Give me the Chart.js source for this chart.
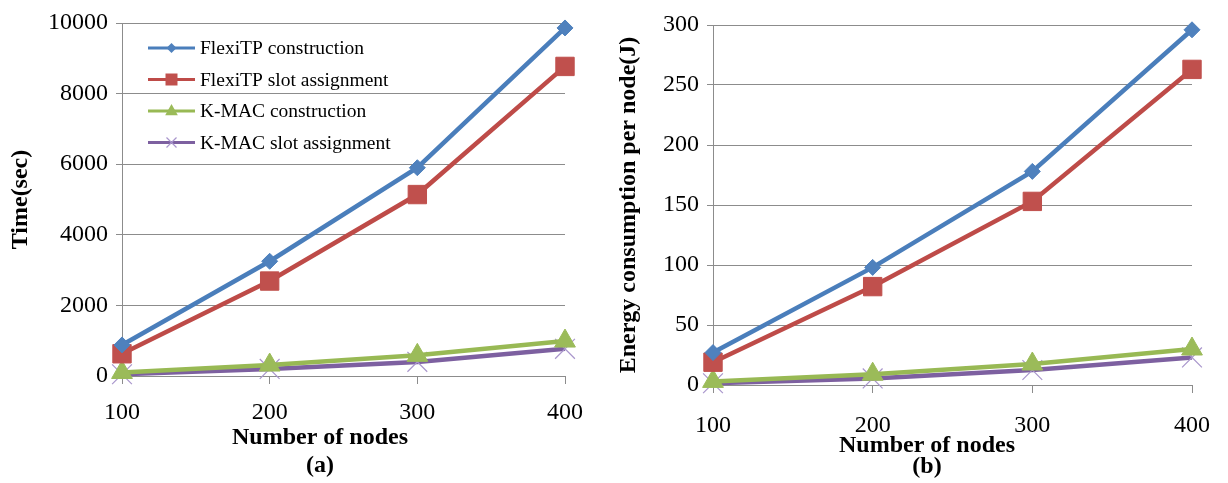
<!DOCTYPE html>
<html>
<head>
<meta charset="utf-8">
<script src="https://cdn.jsdelivr.net/npm/chart.js@4.4.1/dist/chart.umd.min.js"></script>
<style>
  body { margin: 0; background: #fff; }
  .wrap { display: flex; width: 1228px; height: 483px; }
  #leftBox { width: 600px; height: 483px; position: relative; }
  #rightBox { width: 628px; height: 483px; position: relative; }
</style>
</head>
<body>
<div class="wrap">
  <div id="leftBox"><canvas id="timeCanvas"></canvas></div>
  <div id="rightBox"><canvas id="energyCanvas"></canvas></div>
</div>
<script>
const nodes = ['100', '200', '300', '400'];
const seriesNames = ['FlexiTP construction', 'FlexiTP slot assignment', 'K-MAC construction', 'K-MAC slot assignment'];

// (a) time in seconds
const timeFlexiBuild = [880, 3250, 5900, 9860];
const timeFlexiSlots = [630, 2690, 5140, 8770];
const timeKmacBuild = [100, 310, 585, 990];
const timeKmacSlots = [50, 200, 400, 770];

// (b) energy per node in J
const energyFlexiBuild = [27, 98, 178, 296];
const energyFlexiSlots = [19, 82, 153, 263];
const energyKmacBuild = [3, 9, 17.5, 30];
const energyKmacSlots = [1.5, 5.5, 12.5, 23];

const serif = "'Liberation Serif', 'Times New Roman', serif";
const gridGray = '#8c8c8c';

const styles = [
    { line: '#4a7ebb', fill: '#4f81bd', point: 'rectRot', radius: 8, bw: 1, bc: '#4f81bd' },
    { line: '#be4b48', fill: '#c0504d', point: 'rect', radius: 13, bw: 1, bc: '#c0504d' },
    { line: '#98b954', fill: '#9bbb59', point: 'triangle', radius: 12, bw: 1, bc: '#9bbb59' },
    { line: '#7d60a0', fill: 'rgba(0,0,0,0)', point: 'crossRot', radius: 14, bw: 1.2, bc: '#a996cc' }
];

function makeDatasets(arrays) {
    return arrays.map((vals, i) => ({
        label: seriesNames[i],
        data: vals,
        borderColor: styles[i].line,
        borderWidth: 4.5,
        pointStyle: styles[i].point,
        pointRadius: styles[i].radius,
        pointBackgroundColor: styles[i].fill,
        pointBorderColor: styles[i].bc,
        pointBorderWidth: styles[i].bw,
        tension: 0,
        fill: false,
        clip: false
    }));
}

// draw a small marker for the legend
function drawMarker(ctx, st, x, y, r) {
    ctx.save();
    ctx.fillStyle = st.fill;
    ctx.strokeStyle = st.bc;
    ctx.lineWidth = st.bw;
    ctx.beginPath();
    if (st.point === 'rectRot') {
        ctx.moveTo(x, y - r); ctx.lineTo(x + r, y); ctx.lineTo(x, y + r); ctx.lineTo(x - r, y);
        ctx.closePath(); ctx.fill();
    } else if (st.point === 'rect') {
        ctx.rect(x - r, y - r, 2 * r, 2 * r); ctx.fill();
    } else if (st.point === 'triangle') {
        ctx.moveTo(x, y - r); ctx.lineTo(x + r * 0.9, y + r * 0.6); ctx.lineTo(x - r * 0.9, y + r * 0.6);
        ctx.closePath(); ctx.fill();
    } else {
        ctx.moveTo(x - r, y - r); ctx.lineTo(x + r, y + r);
        ctx.moveTo(x + r, y - r); ctx.lineTo(x - r, y + r);
        ctx.stroke();
    }
    ctx.restore();
}

function legendPlugin(cfg) {
    return {
        id: 'lineLegend',
        afterDraw(chart) {
            const ctx = chart.ctx;
            ctx.save();
            ctx.font = '19.5px ' + serif;
            ctx.textBaseline = 'middle';
            ctx.fillStyle = '#000';
            chart.data.datasets.forEach((ds, i) => {
                const y = cfg.y + i * cfg.gap;
                ctx.strokeStyle = ds.borderColor;
                ctx.lineWidth = 3;
                ctx.beginPath();
                ctx.moveTo(cfg.x1, y);
                ctx.lineTo(cfg.x2, y);
                ctx.stroke();
                drawMarker(ctx, styles[i], (cfg.x1 + cfg.x2) / 2, y, [5, 6, 7, 5][i]);
                ctx.fillText(ds.label, cfg.tx, y + 1);
            });
            ctx.restore();
        }
    };
}

// x axis title and panel caption, centred like the original rather than on the plot area
function captionPlugin(cfg) {
    return {
        id: 'xCaption',
        afterDraw(chart) {
            const ctx = chart.ctx;
            ctx.save();
            ctx.font = 'bold 24px ' + serif;
            ctx.textAlign = 'center';
            ctx.textBaseline = 'middle';
            ctx.fillStyle = '#000';
            ctx.fillText('Number of nodes', cfg.x, cfg.y1);
            ctx.fillText(cfg.caption, cfg.x, cfg.y2);
            ctx.restore();
        }
    };
}

function buildChart(canvasId, arrays, opt) {
    const ctx = document.getElementById(canvasId).getContext('2d');
    return new Chart(ctx, {
        type: 'line',
        data: { labels: nodes, datasets: makeDatasets(arrays) },
        options: {
            responsive: true,
            maintainAspectRatio: false,
            animation: false,
            layout: { padding: { top: opt.top, right: opt.right, bottom: 0, left: 0 } },
            plugins: { legend: { display: false }, tooltip: { enabled: false } },
            scales: {
                x: {
                    offset: false,
                    grid: { display: true, drawOnChartArea: false, color: gridGray, tickLength: 8 },
                    border: { color: gridGray },
                    ticks: { color: '#000', font: { family: serif, size: 24 }, padding: opt.xPad, maxRotation: 0 },
                    afterFit(scale) { scale.height = opt.xHeight; }
                },
                y: {
                    min: 0,
                    max: opt.yMax,
                    grid: { color: gridGray, tickLength: 6 },
                    border: { color: gridGray },
                    ticks: {
                        stepSize: opt.yStep, color: '#000', font: { family: serif, size: 24 }, padding: 8,
                        callback: (v) => String(v)
                    },
                    title: {
                        display: true,
                        text: opt.yTitle,
                        color: '#000',
                        font: { family: serif, size: 24, weight: 'bold' },
                        padding: { top: opt.yTitlePad, bottom: 0 }
                    },
                    afterFit(scale) { scale.width = opt.yWidth; }
                }
            }
        },
        plugins: [legendPlugin(opt.legend), captionPlugin(opt.xTitle)]
    });
}

buildChart('timeCanvas', [timeFlexiBuild, timeFlexiSlots, timeKmacBuild, timeKmacSlots], {
    top: 23, right: 35, yMax: 10000, yStep: 2000, yTitle: 'Time(sec)', yTitlePad: 6, yWidth: 122,
    xHeight: 107, xPad: 14,
    xTitle: { x: 320, y1: 438, y2: 466, caption: '(a)' },
    legend: { x1: 148, x2: 195, tx: 200, y: 48, gap: 31.5 }
});

buildChart('energyCanvas', [energyFlexiBuild, energyFlexiSlots, energyKmacBuild, energyKmacSlots], {
    top: 25, right: 23, yMax: 300, yStep: 50, yTitle: 'Energy consumption per node(J)', yTitlePad: 14, yWidth: 113,
    xHeight: 98, xPad: 18,
    xTitle: { x: 327, y1: 446, y2: 467, caption: '(b)' },
    legend: { x1: 757, x2: 797, tx: 808, y: 41, gap: 32 }
});
</script>
</body>
</html>
